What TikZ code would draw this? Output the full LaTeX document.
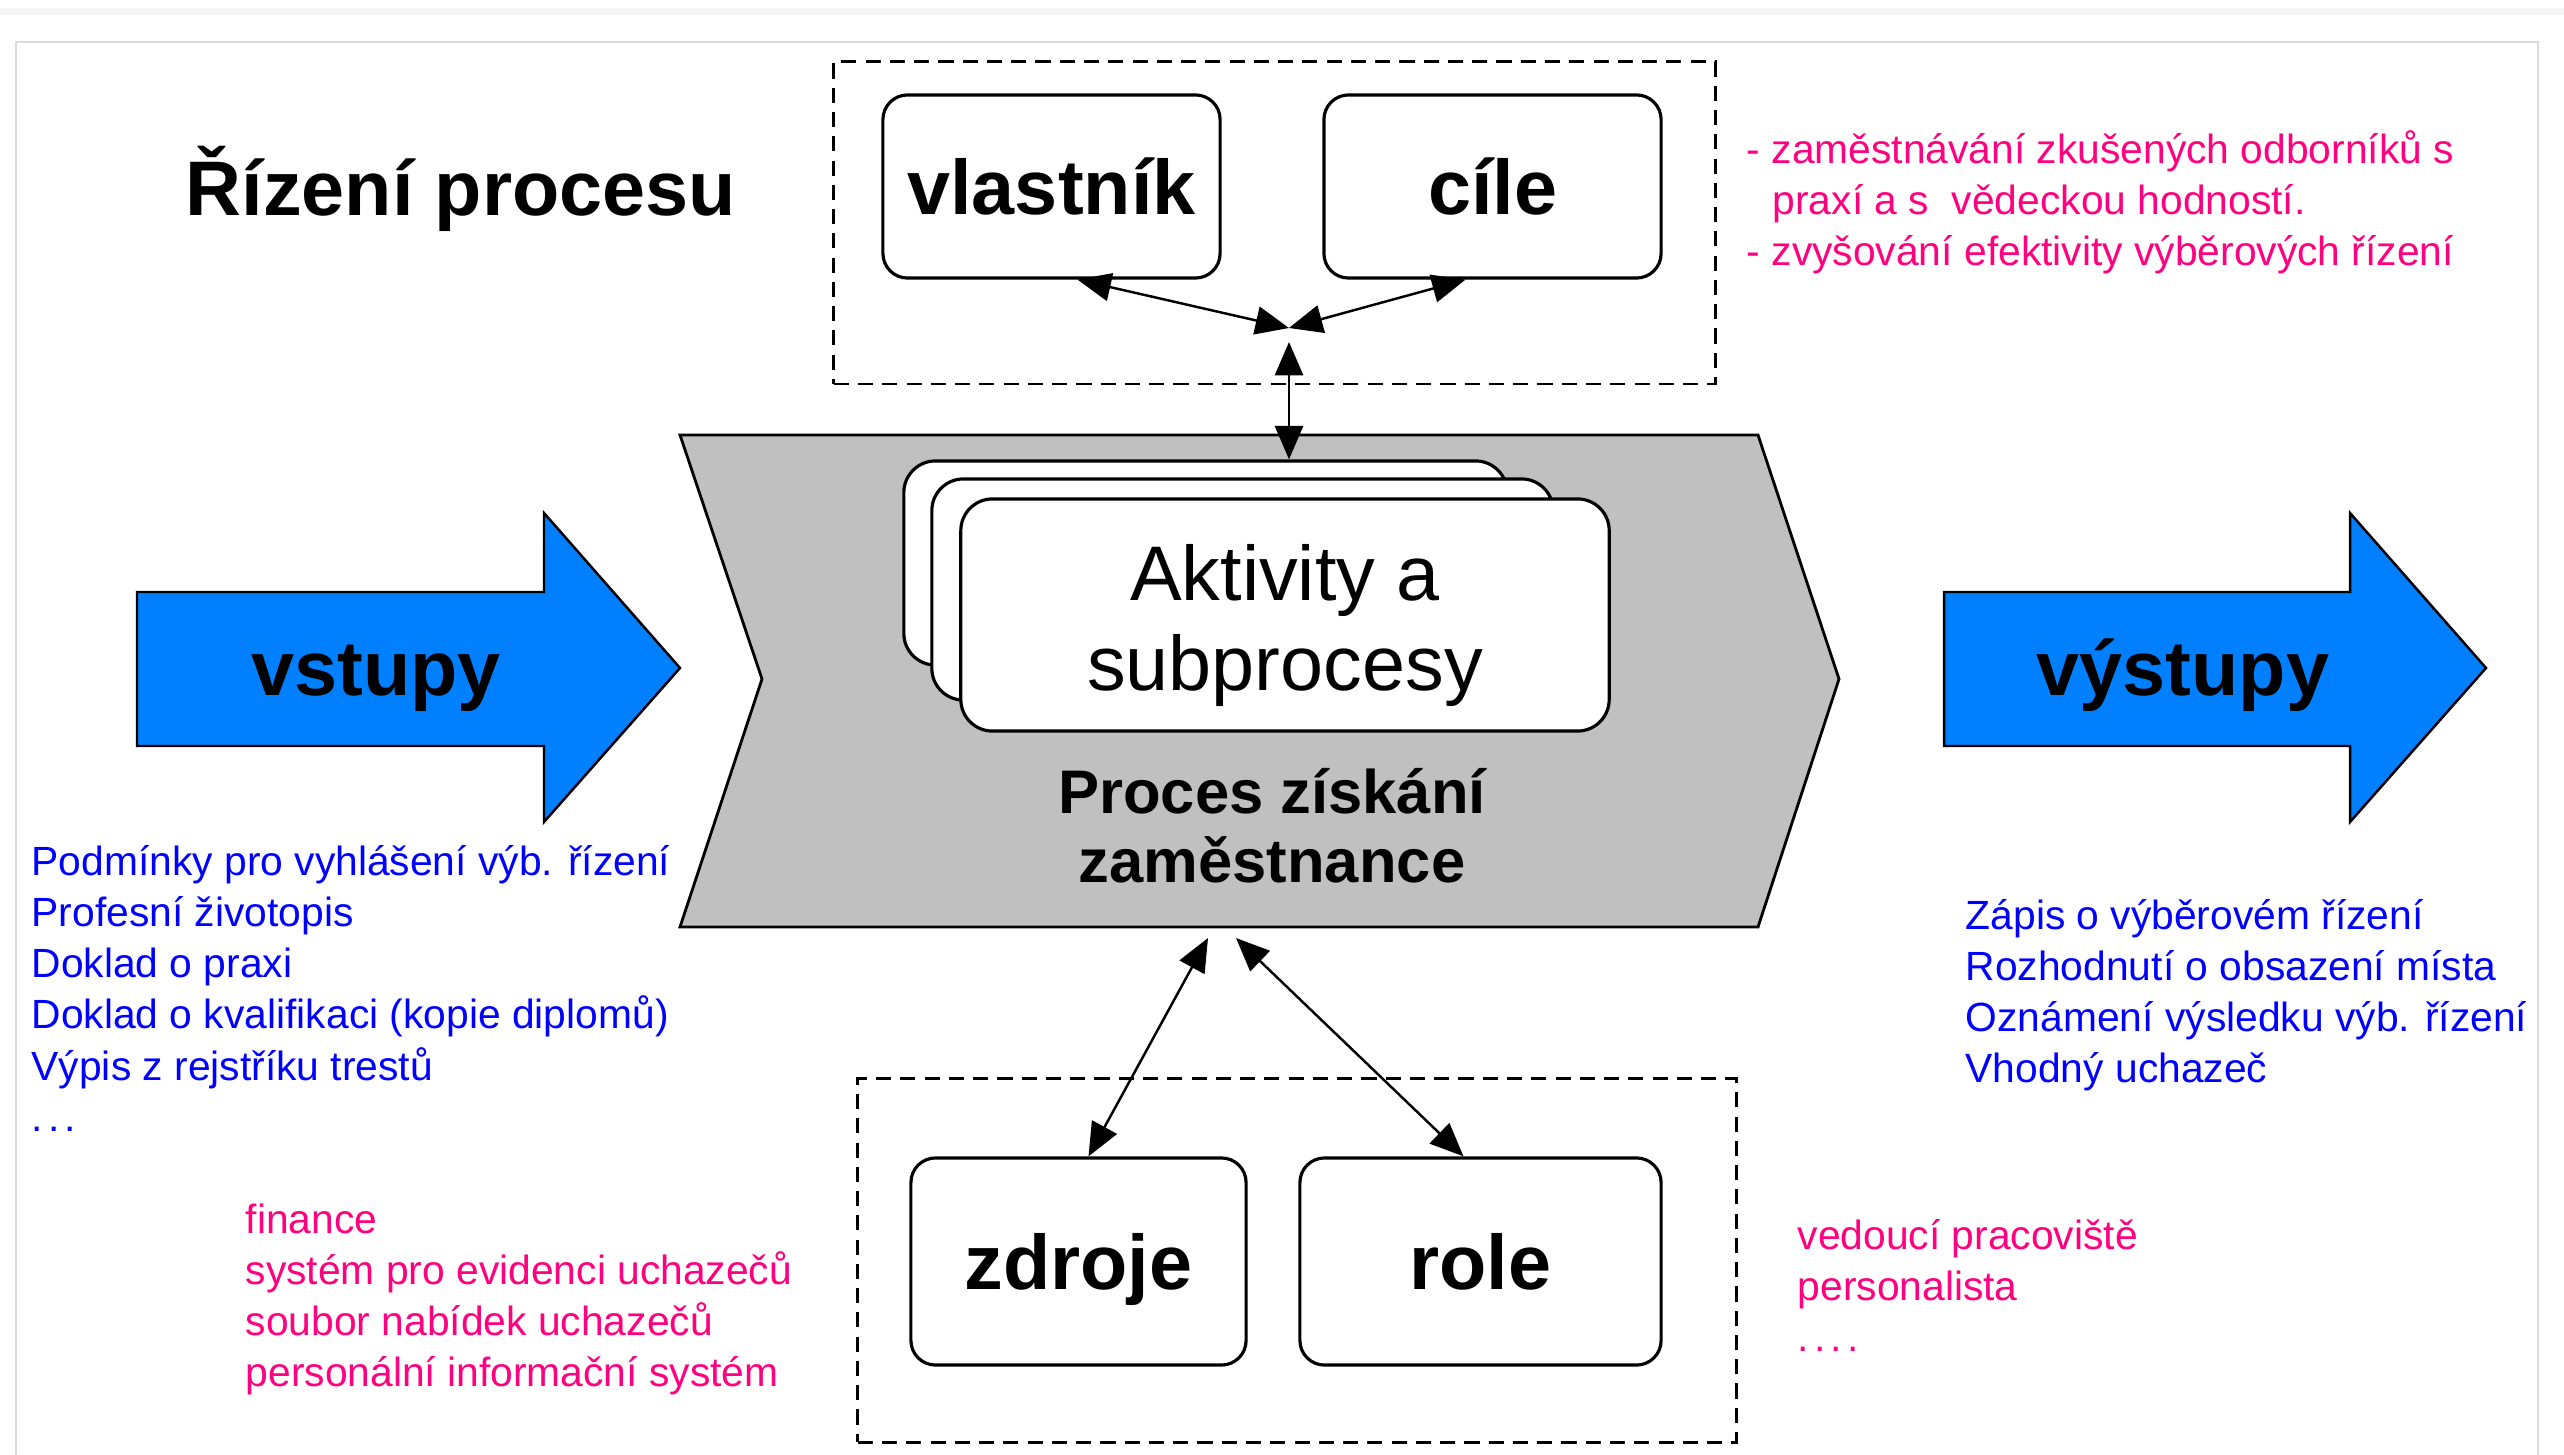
\documentclass[tikz,border=0pt]{standalone}
\usepackage{fontspec}
\setmainfont{Liberation Sans}
\usetikzlibrary{arrows.meta,calc}
\definecolor{procgray}{RGB}{192,192,192}
\definecolor{arrowblue}{RGB}{0,128,255}
\definecolor{txtblue}{RGB}{0,0,255}
\definecolor{txtpink}{RGB}{255,0,128}
\definecolor{framegray}{RGB}{218,218,218}
\begin{document}
\begin{tikzpicture}[x=0.01cm,y=-0.01cm,
  bigbox/.style={draw,line width=0.9pt,rounded corners=7pt,fill=white,
    font=\fontsize{22}{26}\selectfont\bfseries,text height=16pt,text depth=0pt,inner sep=0pt},
  stackbox/.style={draw,line width=0.9pt,rounded corners=9pt,fill=white,inner sep=0pt},
  grpbox/.style={draw,line width=0.8pt,dash pattern=on 4.3pt off 2.6pt,inner sep=0pt},
  biglabel/.style={font=\fontsize{22}{26}\selectfont\bfseries,text height=16pt,text depth=0pt,inner sep=0pt},
  smalltxt/.style={font=\fontsize{11.6}{14.6}\selectfont,anchor=base west,inner sep=0pt},
  conn/.style={line width=0.7pt,{Triangle[length=9.5pt,width=8pt]}-{Triangle[length=9.5pt,width=8pt]}},
  bluearrow/.style={fill=arrowblue,draw=black,line width=0.7pt,line join=miter}]
\useasboundingbox (0,0) rectangle (2564,1455);
% page decoration
\fill[black!4] (0,8) rectangle (2564,15);
\draw[framegray,line width=0.7pt] (16,1460) -- (16,42) -- (2538,42) -- (2538,1460);

% title
\node[font=\fontsize{22}{26}\selectfont\bfseries,inner sep=0pt,anchor=base west] (title) at (185,216) {Řízení procesu};

% top group
\node[grpbox,minimum width=8.81cm,minimum height=3.22cm] (topgrp) at (1274.5,223) {};
\node[bigbox,minimum width=3.37cm,minimum height=1.83cm] (vlastnik) at (1051.5,186.5) {vlastník};
\node[bigbox,minimum width=3.37cm,minimum height=1.83cm] (cile) at (1492.5,186.5) {cíle};

% process chevron
\draw[fill=procgray,line width=0.8pt,line join=miter] (680,435) -- (1758,435) -- (1839,679) -- (1758,927) -- (680,927) -- (762,679) -- cycle;

% stacked activity boxes
\node[stackbox,minimum width=6.03cm,minimum height=2.04cm] (back1) at (1205.5,563) {};
\node[stackbox,minimum width=6.21cm,minimum height=2.21cm] (back2) at (1242.5,589.5) {};
\node[stackbox,minimum width=6.48cm,minimum height=2.32cm,align=center,
  font=\fontsize{22}{25.6}\selectfont] (front) at (1285,615) {\rule{0pt}{22pt}Aktivity a\\subprocesy};
\node[font=\fontsize{17.5}{19.6}\selectfont\bfseries,align=center,inner sep=0pt] (proc) at (1272,826) {Proces získání\\zaměstnance};

% input / output arrows
\draw[bluearrow] (137,592) -- (544,592) -- (544,513) -- (680,668) -- (544,822) -- (544,746) -- (137,746) -- cycle;
\node[biglabel] (vstupy) at (376,667) {vstupy};
\draw[bluearrow] (1944,592) -- (2350,592) -- (2350,513) -- (2486,668) -- (2350,822) -- (2350,746) -- (1944,746) -- cycle;
\node[biglabel] (vystupy) at (2183,667) {výstupy};

% bottom group
\node[grpbox,minimum width=8.78cm,minimum height=3.63cm] (botgrp) at (1297,1260.5) {};
\node[bigbox,minimum width=3.35cm,minimum height=2.07cm] (zdroje) at (1078.5,1261.5) {zdroje};
\node[bigbox,minimum width=3.61cm,minimum height=2.07cm] (role) at (1480.5,1261.5) {role};

% connectors
\coordinate (J) at (1289,328);
\coordinate (J2) at (1289,342);
\draw[conn] ($(vlastnik.south)+(26,0)$) -- (J);
\draw[conn] ($(cile.south)+(-27,0)$) -- (J);
\draw[conn] (J2) -- (J2 |- back1.north);
\coordinate (B1) at (1208,938);
\coordinate (B2) at (1236,938);
\draw[conn] (B1) -- ($(zdroje.north)+(10,0)$);
\draw[conn] (B2) -- ($(role.north)+(-17,0)$);

% texts
\foreach \t [count=\i] in {{Podmínky pro vyhlášení výb. řízení},{Profesní životopis},{Doklad o praxi},{Doklad o kvalifikaci (kopie diplomů)},{Výpis z rejstříku trestů}}
  \node[smalltxt,text=txtblue] (inl\i) at (31,{875+51.3*(\i-1)}) {\t};
\node[smalltxt,text=txtblue] (inl6) at (31,1131) {.\kern1.5pt.\kern1.5pt.};
\foreach \t [count=\i] in {{Zápis o výběrovém řízení},{Rozhodnutí o obsazení místa},{Oznámení výsledku výb. řízení},{Vhodný uchazeč}}
  \node[smalltxt,text=txtblue] (outl\i) at (1965,{929+51.3*(\i-1)}) {\t};
\node[smalltxt,text=txtpink] (goal1) at (1746,164) {- zaměstnávání zkušených odborníků s};
\node[smalltxt,text=txtpink] (goal2) at (1772,215) {praxí a s\ \ vědeckou hodností.};
\node[smalltxt,text=txtpink] (goal3) at (1746,266) {- zvyšování efektivity výběrových řízení};
\foreach \t [count=\i] in {{finance},{systém pro evidenci uchazečů},{soubor nabídek uchazečů},{personální informační systém}}
  \node[smalltxt,text=txtpink] (res\i) at (245,{1233+51.3*(\i-1)}) {\t};
\node[smalltxt,text=txtpink] (rol1) at (1797,1249) {vedoucí pracoviště};
\node[smalltxt,text=txtpink] (rol2) at (1797,1300) {personalista};
\node[smalltxt,text=txtpink] (rol3) at (1797,1351) {.\kern1.5pt.\kern1.5pt.\kern1.5pt.};
\end{tikzpicture}
\end{document}
